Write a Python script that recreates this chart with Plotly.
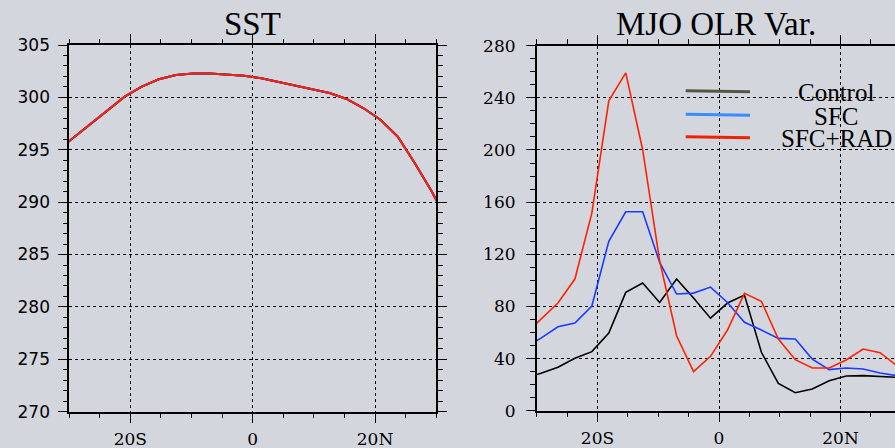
import plotly.graph_objects as go

# ---------------- data ----------------
lats = [-32.09, -29.30, -26.51, -23.72, -20.93, -18.14, -15.35, -12.56, -9.77, -6.98, -4.19, -1.40,
        1.40, 4.19, 6.98, 9.77, 12.56, 15.35, 18.14, 20.93, 23.72, 26.51, 29.30, 32.09]

sst = [294.85, 296.15, 297.43, 298.73, 300.07, 301.02, 301.73, 302.14, 302.27, 302.27, 302.20, 302.07,
       301.82, 301.47, 301.09, 300.77, 300.42, 299.85, 298.96, 297.84, 296.25, 293.71, 291.00, 287.90]

olr_control = [25, 28.7, 33.3, 40.2, 45.3, 59.6, 90.8, 97.9, 83, 101, 86.4, 71,
               82.6, 88.7, 44.8, 21, 13.8, 16.6, 23, 26.6, 26.9, 26.4, 25.6, 25]
olr_sfc = [48, 55.7, 64.4, 67.2, 80.3, 129.9, 152.6, 152.6, 113.8, 89.5, 90.2, 94.8,
           83, 67.8, 61.9, 55.5, 55, 39.6, 31.5, 32.7, 32, 28.9, 26.9, 25]
olr_sfcrad = [58, 70.3, 82.6, 101, 151.6, 237.7, 259.2, 200, 115, 57.5, 30, 41.7,
              61.9, 90, 83.9, 55, 39.1, 32.7, 32.7, 38.9, 47.3, 44.5, 34.5, 30]

series_names = ["Control", "SFC", "SFC+RAD"]
series_colors = ["#000000", "#1a3cff", "#ff2200"]
legend_colors = ["#555545", "#3a8cff", "#ee2200"]

x_tickvals = [-20, 0, 20]
x_ticktext = ["20S", "0", "20N"]
titles = ["SST", "MJO OLR Var."]

# ---------------- figure ----------------
fig = go.Figure()

# SST: all three experiments share the same prescribed SST
for name, col in zip(series_names, series_colors):
    fig.add_trace(go.Scatter(x=lats, y=sst, mode="lines", name=name,
                             line=dict(color=col, width=2), xaxis="x", yaxis="y",
                             showlegend=False))

for name, col, vals in zip(series_names, series_colors, [olr_control, olr_sfc, olr_sfcrad]):
    fig.add_trace(go.Scatter(x=lats, y=vals, mode="lines", name=name,
                             line=dict(color=col, width=1.6), xaxis="x2", yaxis="y2",
                             showlegend=False))

W, H = 895, 448
bg = "#d4d6de"

common_x = dict(
    tickmode="array", tickvals=x_tickvals, ticktext=x_ticktext,
    ticks="outside", ticklen=9, tickwidth=1.3, tickcolor="black",
    showline=True, linecolor="black", linewidth=2, mirror="ticks",
    showgrid=True, gridcolor="black", griddash="dot", gridwidth=1,
    zeroline=False, automargin=False,
    minor=dict(dtick=5, tick0=0, ticks="outside", ticklen=4.5, tickwidth=1.2, tickcolor="black", showgrid=False),
    tickfont=dict(family="DejaVu Serif", size=17, color="black"),
    ticklabelstandoff=2,
)

fig.update_layout(
    width=W, height=H,
    margin=dict(l=0, r=0, t=0, b=0, pad=0, autoexpand=False),
    paper_bgcolor=bg, plot_bgcolor="rgba(0,0,0,0)",
    showlegend=False,
    xaxis=dict(common_x, domain=[69.2 / W, 436.2 / W], range=[-30, 30], anchor="y"),
    yaxis=dict(
        domain=[(H - 411.7) / H, (H - 45) / H], range=[270, 305], anchor="x",
        tickmode="linear", tick0=270, dtick=5,
        ticks="outside", ticklen=9, tickwidth=1.3, tickcolor="black",
        showline=True, linecolor="black", linewidth=1.6, mirror="ticks",
        showgrid=True, gridcolor="black", griddash="dot", gridwidth=1, zeroline=False,
        automargin=False,
        minor=dict(dtick=1, ticks="outside", ticklen=4.5, tickwidth=1.2, tickcolor="black", showgrid=False),
        tickfont=dict(family="DejaVu Sans", size=17, color="black"),
        ticklabelstandoff=5,
    ),
    xaxis2=dict(common_x, domain=[536.75 / W, 1.0], range=[-30, (895 - 719) / 6.075], anchor="y2"),
    yaxis2=dict(
        domain=[(H - 410.7) / H, (H - 45.7) / H], range=[0, 280], anchor="x2",
        tickmode="linear", tick0=0, dtick=40,
        ticks="outside", ticklen=9, tickwidth=1.3, tickcolor="black",
        showline=True, linecolor="black", linewidth=1.6, mirror=False,
        showgrid=True, gridcolor="black", griddash="dot", gridwidth=1, zeroline=False,
        automargin=False,
        minor=dict(dtick=10, ticks="outside", ticklen=4.5, tickwidth=1.2, tickcolor="black", showgrid=False),
        tickfont=dict(family="DejaVu Serif", size=17, color="black"),
        ticklabelstandoff=7,
    ),
)

# panel titles
for i, t in enumerate(titles):
    fig.add_annotation(text=t, xref="x domain" if i == 0 else "x2 domain", x=0.5,
                       yref="paper", y=1 - 24 / H, xanchor="center", yanchor="middle",
                       showarrow=False,
                       font=dict(family="Liberation Serif", size=33, color="black"))

# legend (drawn by hand, NCL style)
leg_y = [90.7, 114.3, 136.7]
for name, col, yy in zip(series_names, legend_colors, leg_y):
    fig.add_shape(type="line", xref="paper", yref="paper",
                  x0=685.7 / W, x1=750 / W, y0=1 - yy / H, y1=1 - (yy + 1) / H,
                  line=dict(color=col, width=3))
    fig.add_annotation(text=name, xref="paper", yref="paper", x=836 / W, y=1 - (yy + 2) / H,
                       xanchor="center", yanchor="middle", showarrow=False,
                       font=dict(family="Liberation Serif", size=25, color="black"))

fig.write_html("out.html", config={"displayModeBar": False},
               post_script="document.body.style.margin='0';document.body.style.overflow='hidden';")
